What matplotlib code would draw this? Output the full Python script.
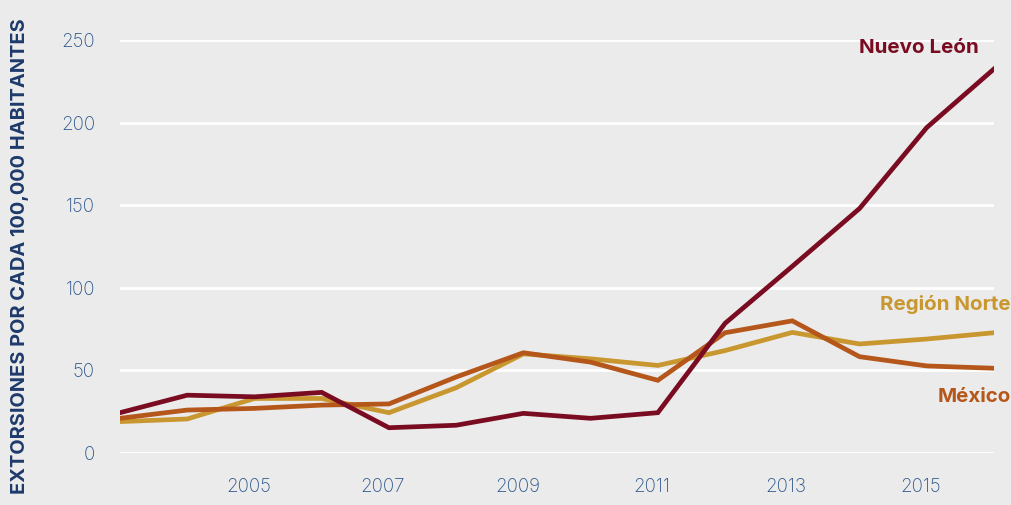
import matplotlib.pyplot as plt
from matplotlib.transforms import ScaledTranslation

# datos
anios = list(range(2003, 2017))
nuevo_leon = [24.4, 35, 34, 36.7, 15.3, 16.8, 24, 21, 24.4, 78.5, 113, 148, 197, 232.5]
region_norte = [19, 20.6, 33, 33, 24.4, 39.5, 60, 57, 53, 62, 73, 66, 69, 72.8]
mexico = [21, 26, 27, 29, 29.7, 46, 60.7, 55, 44, 72.8, 80, 58.3, 52.7, 51.3]
xticks = [2005, 2007, 2009, 2011, 2013, 2015]
yticks = [0, 50, 100, 150, 200, 250]

fondo = "#ebebeb"
azul = "#2c578c"
c_nl = "#7a0c22"
c_rn = "#c9972f"
c_mx = "#b5561a"

plt.rcParams["font.family"] = ["Inter", "DejaVu Sans"]

fig = plt.figure(figsize=(10.11, 5.05), dpi=100, facecolor=fondo)
ax = fig.add_axes([120 / 1011, 52 / 505, 874 / 1011, 413 / 505], facecolor=fondo)

ax.plot(anios, region_norte, color=c_rn, lw=3.4, solid_joinstyle="miter")
ax.plot(anios, mexico, color=c_mx, lw=3.4, solid_joinstyle="miter")
ax.plot(anios, nuevo_leon, color=c_nl, lw=3.4, solid_joinstyle="miter")

ax.set_xlim(2003, 2016)
ax.set_ylim(0, 250)
ax.set_xticks(xticks)
ax.set_yticks(yticks)
ax.tick_params(length=0, labelcolor=azul, labelsize=13.5)
ax.tick_params(axis="y", pad=18)
ax.tick_params(axis="x", pad=18)
desplaza = ScaledTranslation(-6 / 100, 0, fig.dpi_scale_trans)
for lab in ax.get_xticklabels():
    lab.set_transform(lab.get_transform() + desplaza)
for lab in ax.get_xticklabels() + ax.get_yticklabels():
    lab.set_fontweight("light")
ax.grid(axis="y", color="white", lw=2)
ax.set_axisbelow(True)
for s in ax.spines.values():
    s.set_visible(False)

fig.text(20 / 1011, 1 - 256 / 505, "EXTORSIONES POR CADA 100,000 HABITANTES",
         rotation=90, ha="center", va="center", color="#1d3a6b",
         fontsize=14.4, fontweight="bold")

ax.text(2016 - 0.22, 245, "Nuevo León", color=c_nl, fontsize=14.8,
        fontweight="bold", ha="right", va="center")
ax.text(2016.25, 90, "Región Norte", color=c_rn, fontsize=14.8,
        fontweight="bold", ha="right", va="center", clip_on=False)
ax.text(2016.25, 34, "México", color=c_mx, fontsize=14.8,
        fontweight="bold", ha="right", va="center", clip_on=False)

fig.savefig("out.png", dpi=100, facecolor=fondo)
